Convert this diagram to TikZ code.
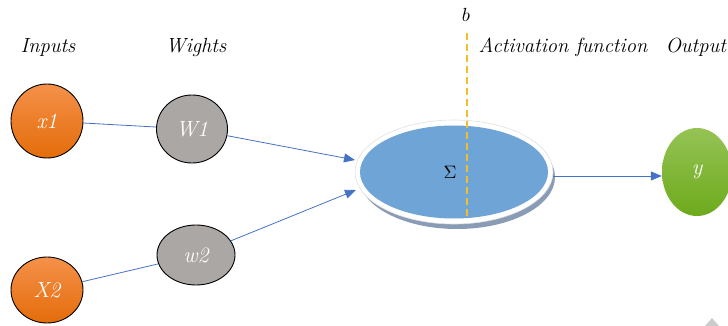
\documentclass[tikz,border=0pt]{standalone}
\usepackage{fontspec}
\usetikzlibrary{shapes.geometric,arrows.meta}
\definecolor{lineblue}{HTML}{4472C4}
\definecolor{orangetop}{HTML}{F4914A}
\definecolor{orangebot}{HTML}{E46C0A}
\definecolor{greyfill}{HTML}{ABA7A5}
\definecolor{sigblue}{HTML}{6FA4D6}
\definecolor{greentop}{HTML}{95C355}
\definecolor{greenbot}{HTML}{6DAA1C}
\definecolor{dashgold}{HTML}{F2BE2C}
\definecolor{shadowcol}{HTML}{8A9BB5}
\tikzset{
  lbl/.style={font=\fontsize{20.5}{24}\selectfont\itshape, anchor=center},
  inode/.style={ellipse, draw=black, line width=0.9pt, inner sep=0pt, top color=orangetop, bottom color=orangebot, text=white, font=\fontsize{22}{26}\selectfont\itshape},
  wnode/.style={ellipse, draw=black, line width=0.9pt, inner sep=0pt, fill=greyfill, text=white, font=\fontsize{22}{26}\selectfont\itshape},
  conn/.style={draw=lineblue, line width=0.8pt},
  arr/.style={conn, -{Triangle[length=11pt,width=9pt]}},
}
\begin{document}
\begin{tikzpicture}[x=1pt,y=-1pt]
\useasboundingbox (0,0) rectangle (728,326);
% labels
\node[lbl] (tin) at (48,47) {Inputs};
\node[lbl] (tw) at (196,47) {Wights};
\node[lbl] (tact) at (563,47) {Activation function};
\node[lbl, anchor=west] (tout) at (662,47) {Output};
\node (tb) at (466,15) {\scalebox{1.9}{$b$}};
% input nodes
\node[inode, minimum width=72, minimum height=74] (x1) at (47,121) {x1};
\node[inode, minimum width=72, minimum height=66] (x2) at (47,290) {X2};
\node[wnode, minimum width=71, minimum height=68] (W1) at (192,129) {W1};
\node[wnode, minimum width=78, minimum height=60] (w2) at (196,255) {w2};
% summation
\node[ellipse, fill=shadowcol, minimum width=196, minimum height=104, inner sep=0pt] (shad) at (457,177) {};
\node[ellipse, fill=white, draw=black!12, line width=0.6pt, minimum width=198, minimum height=104, inner sep=0pt] (rim) at (454,172) {};
\node[ellipse, fill=sigblue, minimum width=188, minimum height=93, inner sep=0pt] (sig) at (454,172) {};
\node (sigma) at (450,172) {\scalebox{1.8}{$\Sigma$}};
\coordinate (btop) at (467,33);
\coordinate (bbot) at (467,216);
\draw[dashgold, line width=1.1pt, dash pattern=on 7pt off 4pt] (btop) -- (bbot);
% output
\node[ellipse, inner sep=0pt, minimum width=70, minimum height=88, top color=greentop, bottom color=greenbot, text=white, font=\fontsize{22}{26}\selectfont\itshape] (yn) at (697,172) {y};
% connectors
\coordinate (tip1) at (355,160);
\coordinate (tip2) at (356,190);
\draw[conn] (x1) -- (W1);
\draw[conn] (x2) -- (w2);
\draw[arr] (W1) -- (tip1);
\draw[arr] (w2) -- (tip2);
\coordinate (sout) at (553,176);
\draw[arr] (sout) -- (yn.west |- sout);
% small mark
\coordinate (m1) at (712,318);
\fill[black!20] (m1) -- (705,326) -- (719,326) -- cycle;
\end{tikzpicture}
\end{document}
